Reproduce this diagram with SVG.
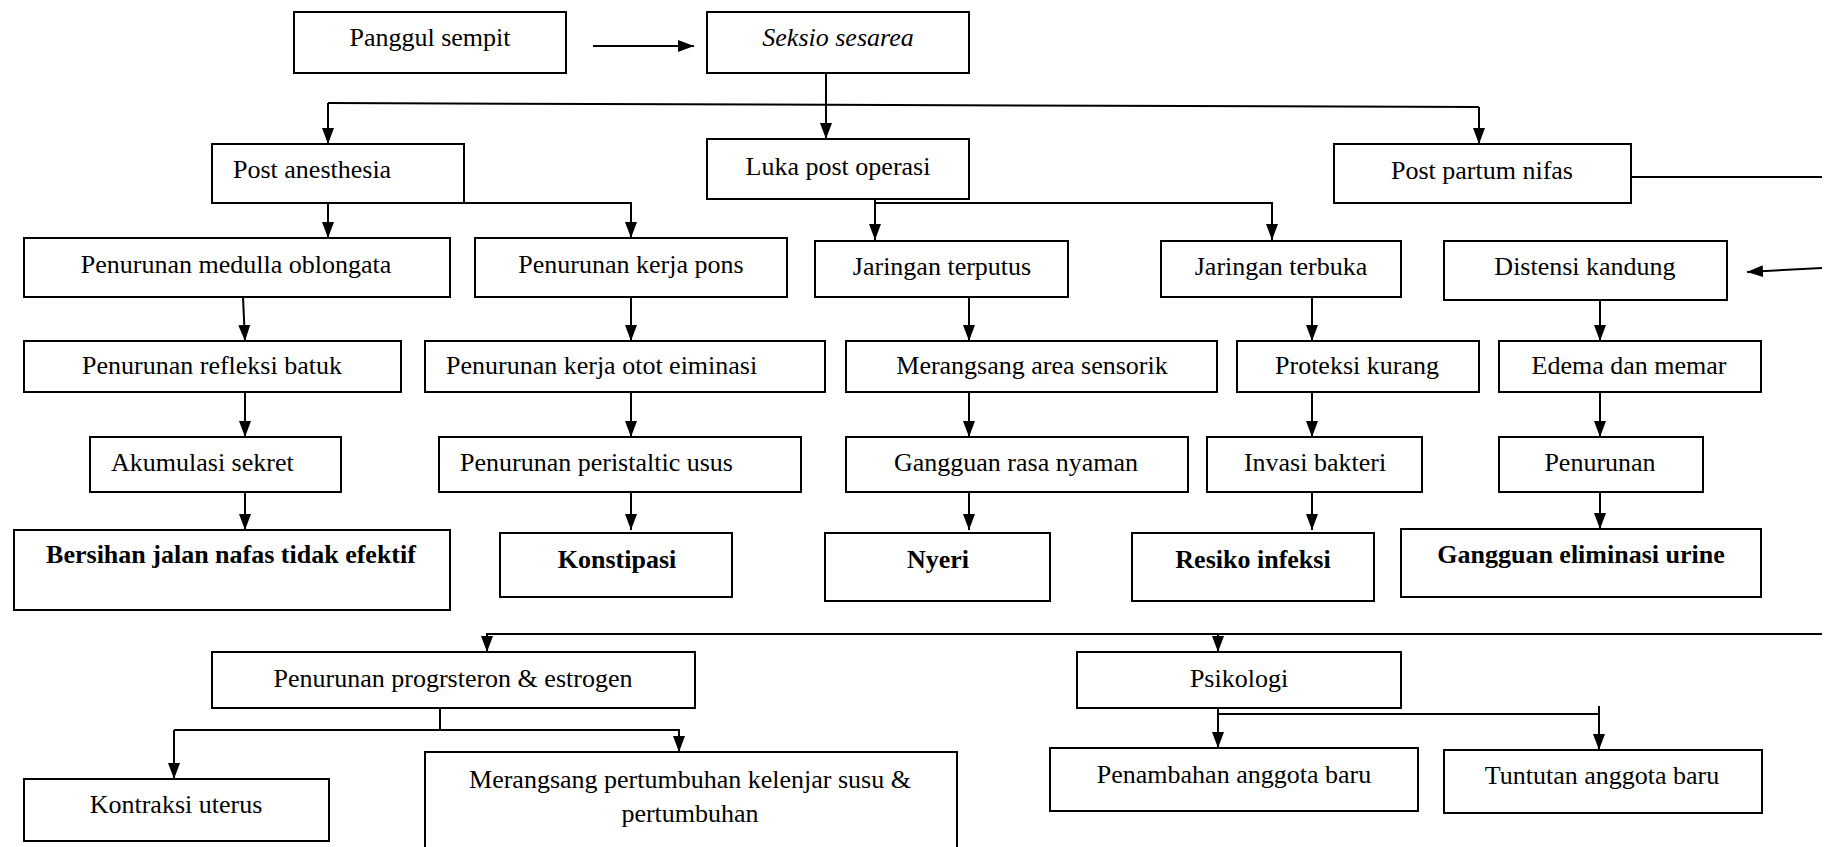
<svg xmlns="http://www.w3.org/2000/svg" width="1824" height="847" viewBox="0 0 1824 847">
<style>
.b{fill:#fff;stroke:#000;stroke-width:2}
.t{font-family:Liberation Serif,Tinos,Times New Roman,Times,Noto Serif,DejaVu Serif,serif;font-size:26px;fill:#000;text-anchor:middle}
.l{text-anchor:start}
.bd{font-weight:bold}
.c{fill:none;stroke:#000;stroke-width:2}
</style>
<defs>
<marker id="ah" viewBox="0 0 16 12" refX="16" refY="6" markerWidth="16" markerHeight="13" markerUnits="userSpaceOnUse" orient="auto">
<path d="M0,0 L16,6 L0,12 z" fill="#000"/>
</marker>
</defs>
<rect width="1824" height="847" fill="#fff"/>
<g id="connectors">
<path class="c" d="M593,46 H694" marker-end="url(#ah)" stroke-width="3"/>
<path class="c" d="M826,73 V139" marker-end="url(#ah)"/>
<path class="c" d="M328,103 L1479,107"/>
<path class="c" d="M328,103 V144" marker-end="url(#ah)"/>
<path class="c" d="M1479,107 V144" marker-end="url(#ah)"/>
<path class="c" d="M1631,177 H1822"/>
<path class="c" d="M1822,268 L1747,272" marker-end="url(#ah)" stroke-width="3"/>
<path class="c" d="M328,203 V238" marker-end="url(#ah)"/>
<path class="c" d="M328,203 H631 V238" marker-end="url(#ah)"/>
<path class="c" d="M875,197 V240" marker-end="url(#ah)"/>
<path class="c" d="M875,203 H1272 V240" marker-end="url(#ah)"/>
<path class="c" d="M243,297 L245,341" marker-end="url(#ah)"/>
<path class="c" d="M631,297 V341" marker-end="url(#ah)"/>
<path class="c" d="M969,297 V341" marker-end="url(#ah)"/>
<path class="c" d="M1312,297 V341" marker-end="url(#ah)"/>
<path class="c" d="M1600,300 V341" marker-end="url(#ah)"/>
<path class="c" d="M245,392 V437" marker-end="url(#ah)"/>
<path class="c" d="M631,392 V437" marker-end="url(#ah)"/>
<path class="c" d="M969,392 V437" marker-end="url(#ah)"/>
<path class="c" d="M1312,392 V437" marker-end="url(#ah)"/>
<path class="c" d="M1600,392 V437" marker-end="url(#ah)"/>
<path class="c" d="M245,492 V530" marker-end="url(#ah)"/>
<path class="c" d="M631,492 V530" marker-end="url(#ah)"/>
<path class="c" d="M969,492 V530" marker-end="url(#ah)"/>
<path class="c" d="M1312,492 V530" marker-end="url(#ah)"/>
<path class="c" d="M1600,492 V529" marker-end="url(#ah)"/>
<path class="c" d="M1822,634 H487 V652" marker-end="url(#ah)"/>
<path class="c" d="M1218,634 V652" marker-end="url(#ah)"/>
<path class="c" d="M440,708 V730"/>
<path class="c" d="M174,730 H679 V752" marker-end="url(#ah)"/>
<path class="c" d="M174,730 V779" marker-end="url(#ah)"/>
<path class="c" d="M1218,708 V748" marker-end="url(#ah)"/>
<path class="c" d="M1218,714 H1599"/>
<path class="c" d="M1599,706 V750" marker-end="url(#ah)"/>
</g>
<g id="panggul"><rect class="b" x="294" y="12" width="272" height="61"/><text class="t" x="430" y="46">Panggul sempit</text></g>
<g id="seksio"><rect class="b" x="707" y="12" width="262" height="61"/><text class="t" x="838" y="46" font-style="italic">Seksio sesarea</text></g>
<g id="post-anesthesia"><rect class="b" x="212" y="144" width="252" height="59"/><text class="t l" x="233" y="178">Post anesthesia</text></g>
<g id="luka"><rect class="b" x="707" y="139" width="262" height="60"/><text class="t" x="838" y="175">Luka post operasi</text></g>
<g id="post-partum"><rect class="b" x="1334" y="144" width="297" height="59"/><text class="t" x="1482" y="179">Post partum nifas</text></g>
<g id="medulla"><rect class="b" x="24" y="238" width="426" height="59"/><text class="t" x="236" y="273">Penurunan medulla oblongata</text></g>
<g id="pons"><rect class="b" x="475" y="238" width="312" height="59"/><text class="t" x="631" y="273">Penurunan kerja pons</text></g>
<g id="jaringan-terputus"><rect class="b" x="815" y="241" width="253" height="56"/><text class="t" x="942" y="275">Jaringan terputus</text></g>
<g id="jaringan-terbuka"><rect class="b" x="1161" y="241" width="240" height="56"/><text class="t" x="1281" y="275">Jaringan terbuka</text></g>
<g id="distensi"><rect class="b" x="1444" y="241" width="283" height="59"/><text class="t" x="1585" y="275">Distensi kandung</text></g>
<g id="refleksi"><rect class="b" x="24" y="341" width="377" height="51"/><text class="t" x="212" y="374">Penurunan refleksi batuk</text></g>
<g id="otot"><rect class="b" x="425" y="341" width="400" height="51"/><text class="t l" x="446" y="374">Penurunan kerja otot eiminasi</text></g>
<g id="sensorik"><rect class="b" x="846" y="341" width="371" height="51"/><text class="t" x="1032" y="374">Merangsang area sensorik</text></g>
<g id="proteksi"><rect class="b" x="1237" y="341" width="242" height="51"/><text class="t" x="1357" y="374">Proteksi kurang</text></g>
<g id="edema"><rect class="b" x="1499" y="341" width="262" height="51"/><text class="t" x="1629" y="374">Edema dan memar</text></g>
<g id="akumulasi"><rect class="b" x="90" y="437" width="251" height="55"/><text class="t l" x="111" y="471">Akumulasi sekret</text></g>
<g id="peristaltic"><rect class="b" x="439" y="437" width="362" height="55"/><text class="t l" x="460" y="471">Penurunan peristaltic usus</text></g>
<g id="rasa-nyaman"><rect class="b" x="846" y="437" width="342" height="55"/><text class="t" x="1016" y="471">Gangguan rasa nyaman</text></g>
<g id="invasi"><rect class="b" x="1207" y="437" width="215" height="55"/><text class="t" x="1315" y="471">Invasi bakteri</text></g>
<g id="penurunan"><rect class="b" x="1499" y="437" width="204" height="55"/><text class="t" x="1600" y="471">Penurunan</text></g>
<g id="bersihan"><rect class="b" x="14" y="530" width="436" height="80"/><text class="t bd" x="231" y="563">Bersihan jalan nafas tidak efektif</text></g>
<g id="konstipasi"><rect class="b" x="500" y="533" width="232" height="64"/><text class="t bd" x="617" y="568">Konstipasi</text></g>
<g id="nyeri"><rect class="b" x="825" y="533" width="225" height="68"/><text class="t bd" x="938" y="568">Nyeri</text></g>
<g id="resiko"><rect class="b" x="1132" y="533" width="242" height="68"/><text class="t bd" x="1253" y="568">Resiko infeksi</text></g>
<g id="eliminasi"><rect class="b" x="1401" y="529" width="360" height="68"/><text class="t bd" x="1581" y="563">Gangguan eliminasi urine</text></g>
<g id="progesteron"><rect class="b" x="212" y="652" width="483" height="56"/><text class="t" x="453" y="687">Penurunan progrsteron &amp; estrogen</text></g>
<g id="psikologi"><rect class="b" x="1077" y="652" width="324" height="56"/><text class="t" x="1239" y="687">Psikologi</text></g>
<g id="kontraksi"><rect class="b" x="24" y="779" width="305" height="62"/><text class="t" x="176" y="813">Kontraksi uterus</text></g>
<g id="kelenjar"><rect class="b" x="425" y="752" width="532" height="110"/><text class="t" x="690" y="788">Merangsang pertumbuhan kelenjar susu &amp;</text><text class="t" x="690" y="822">pertumbuhan</text></g>
<g id="penambahan"><rect class="b" x="1050" y="748" width="368" height="63"/><text class="t" x="1234" y="783">Penambahan anggota baru</text></g>
<g id="tuntutan"><rect class="b" x="1444" y="750" width="318" height="63"/><text class="t" x="1602" y="784">Tuntutan anggota baru</text></g>
</svg>
